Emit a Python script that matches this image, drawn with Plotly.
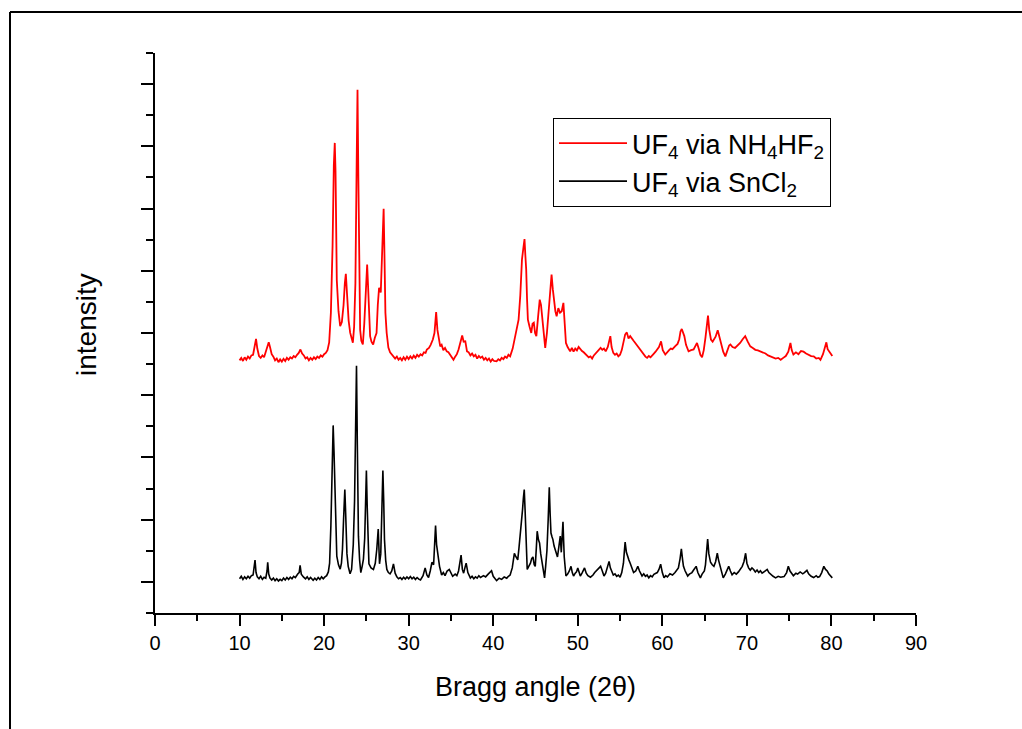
import plotly.graph_objects as go

# ---- data (2-theta in degrees, intensity in arbitrary offset units) ----
red_pts = [
    (10.0, 8.12), (10.2, 8.20), (10.4, 8.10), (10.6, 8.22), (10.8, 8.14), (11.0, 8.24), (11.2, 8.18),
    (11.4, 8.28), (11.6, 8.30), (11.8, 8.55), (11.95, 8.81), (12.1, 8.50), (12.3, 8.26), (12.5, 8.20),
    (12.7, 8.28), (12.9, 8.22), (13.1, 8.38), (13.3, 8.58), (13.45, 8.70), (13.6, 8.55), (13.8, 8.32),
    (14.0, 8.24), (14.2, 8.12), (14.4, 8.18), (14.6, 8.06), (14.8, 8.15), (15.0, 8.08), (15.2, 8.17),
    (15.4, 8.10), (15.6, 8.20), (15.8, 8.14), (16.0, 8.22), (16.2, 8.18), (16.4, 8.26), (16.6, 8.22),
    (16.8, 8.30), (17.0, 8.36), (17.2, 8.47), (17.4, 8.34), (17.6, 8.28), (17.8, 8.18), (18.0, 8.22),
    (18.2, 8.12), (18.4, 8.20), (18.6, 8.14), (18.8, 8.22), (19.0, 8.16), (19.2, 8.24), (19.4, 8.20),
    (19.6, 8.28), (19.8, 8.24), (20.0, 8.32), (20.2, 8.36), (20.4, 8.45), (20.6, 8.70), (20.8, 9.65),
    (21.0, 11.8), (21.15, 14.4), (21.26, 15.11), (21.35, 14.2), (21.5, 10.7), (21.7, 9.7), (21.9, 9.22),
    (22.1, 9.35), (22.3, 9.90), (22.45, 10.6), (22.57, 10.90), (22.7, 10.3), (22.9, 9.40), (23.08, 9.01),
    (23.25, 8.85), (23.4, 8.69), (23.55, 9.2), (23.7, 10.6), (23.85, 14.5), (23.95, 16.82), (24.05, 14.0),
    (24.15, 10.5), (24.26, 9.11), (24.4, 8.75), (24.58, 8.63), (24.75, 9.3), (24.85, 9.86), (24.98, 10.8),
    (25.09, 11.2), (25.2, 10.5), (25.32, 9.4), (25.44, 8.9), (25.6, 8.72), (25.8, 8.63), (26.0, 8.85),
    (26.2, 9.0), (26.35, 9.9), (26.5, 10.45), (26.7, 10.3), (26.85, 11.5), (26.95, 12.6), (27.04, 12.99),
    (27.12, 11.8), (27.25, 9.65), (27.4, 9.0), (27.6, 8.53), (27.8, 8.38), (28.0, 8.30), (28.2, 8.25),
    (28.4, 8.18), (28.6, 8.24), (28.8, 8.14), (29.0, 8.20), (29.2, 8.12), (29.4, 8.22), (29.6, 8.14),
    (29.8, 8.24), (30.0, 8.16), (30.2, 8.25), (30.4, 8.18), (30.6, 8.27), (30.8, 8.20), (31.0, 8.30),
    (31.2, 8.24), (31.4, 8.32), (31.6, 8.28), (31.8, 8.38), (32.0, 8.36), (32.15, 8.47), (32.4, 8.52),
    (32.6, 8.62), (32.86, 8.79), (33.05, 9.0), (33.25, 9.67), (33.4, 9.1), (33.55, 8.80), (33.73, 8.57),
    (33.9, 8.62), (34.1, 8.45), (34.3, 8.52), (34.5, 8.41), (34.7, 8.38), (34.9, 8.31), (35.1, 8.22),
    (35.3, 8.14), (35.5, 8.24), (35.7, 8.32), (35.9, 8.47), (36.1, 8.65), (36.33, 8.92), (36.5, 8.72),
    (36.7, 8.73), (36.9, 8.41), (37.1, 8.38), (37.3, 8.28), (37.5, 8.34), (37.7, 8.25), (37.9, 8.30),
    (38.1, 8.18), (38.3, 8.26), (38.5, 8.20), (38.7, 8.24), (38.9, 8.14), (39.1, 8.20), (39.3, 8.12),
    (39.5, 8.18), (39.7, 8.08), (39.9, 8.16), (40.1, 8.10), (40.4, 8.09), (40.6, 8.16), (40.8, 8.12),
    (41.0, 8.20), (41.2, 8.16), (41.4, 8.24), (41.6, 8.20), (41.8, 8.30), (42.0, 8.25), (42.3, 8.50),
    (42.6, 8.90), (42.8, 9.05), (43.0, 9.43), (43.2, 10.2), (43.4, 11.36), (43.55, 11.7), (43.7, 12.02),
    (43.8, 11.5), (43.9, 11.04), (44.0, 10.1), (44.1, 9.43), (44.3, 9.2), (44.5, 9.0), (44.65, 9.3),
    (44.8, 9.33), (44.95, 9.0), (45.1, 8.9), (45.3, 9.5), (45.5, 10.07), (45.65, 9.9), (45.8, 9.54),
    (46.0, 9.0), (46.15, 8.52), (46.35, 9.0), (46.55, 9.65), (46.75, 10.4), (46.9, 10.88), (47.05, 10.4),
    (47.2, 9.97), (47.35, 9.7), (47.5, 9.54), (47.7, 9.8), (47.9, 9.65), (48.1, 9.7), (48.3, 9.97),
    (48.45, 9.3), (48.6, 8.68), (48.8, 8.55), (49.1, 8.41), (49.3, 8.52), (49.5, 8.40), (49.7, 8.50),
    (49.9, 8.44), (50.1, 8.55), (50.3, 8.47), (50.5, 8.42), (50.7, 8.38), (50.9, 8.32), (51.1, 8.28),
    (51.3, 8.22), (51.5, 8.25), (51.7, 8.18), (51.9, 8.28), (52.1, 8.34), (52.3, 8.42), (52.5, 8.48),
    (52.7, 8.52), (52.9, 8.46), (53.1, 8.50), (53.3, 8.41), (53.55, 8.55), (53.85, 8.90), (54.0, 8.55),
    (54.2, 8.36), (54.4, 8.30), (54.6, 8.34), (54.8, 8.25), (55.0, 8.30), (55.2, 8.45), (55.4, 8.70),
    (55.6, 8.95), (55.8, 9.02), (56.0, 8.82), (56.2, 8.90), (56.4, 8.84), (56.6, 8.75), (56.8, 8.68),
    (57.0, 8.60), (57.2, 8.52), (57.4, 8.45), (57.6, 8.38), (57.8, 8.28), (58.0, 8.24), (58.2, 8.20),
    (58.4, 8.26), (58.6, 8.22), (58.8, 8.30), (59.0, 8.34), (59.2, 8.40), (59.4, 8.47), (59.6, 8.55),
    (59.85, 8.73), (60.05, 8.45), (60.35, 8.31), (60.6, 8.40), (60.8, 8.45), (61.0, 8.50), (61.2, 8.48),
    (61.5, 8.57), (61.8, 8.65), (62.0, 8.80), (62.15, 9.05), (62.3, 9.13), (62.45, 9.0), (62.6, 8.9),
    (62.8, 8.62), (63.1, 8.41), (63.4, 8.45), (63.7, 8.47), (63.9, 8.58), (64.1, 8.68), (64.3, 8.50),
    (64.5, 8.30), (64.7, 8.22), (64.9, 8.45), (65.1, 8.85), (65.25, 9.2), (65.4, 9.56), (65.55, 9.1),
    (65.75, 8.79), (65.95, 8.72), (66.1, 8.79), (66.3, 8.88), (66.55, 9.09), (66.75, 8.85), (66.95, 8.68),
    (67.2, 8.40), (67.45, 8.25), (67.7, 8.45), (67.9, 8.60), (68.05, 8.63), (68.3, 8.55), (68.6, 8.52),
    (68.9, 8.60), (69.2, 8.68), (69.5, 8.80), (69.8, 8.90), (70.1, 8.72), (70.4, 8.57), (70.7, 8.52),
    (71.0, 8.46), (71.3, 8.44), (71.6, 8.41), (71.9, 8.36), (72.2, 8.34), (72.5, 8.28), (72.8, 8.25),
    (73.1, 8.22), (73.4, 8.18), (73.7, 8.20), (74.0, 8.14), (74.3, 8.20), (74.6, 8.26), (74.9, 8.40),
    (75.15, 8.68), (75.3, 8.45), (75.5, 8.31), (75.8, 8.38), (76.1, 8.32), (76.4, 8.42), (76.7, 8.40),
    (77.0, 8.34), (77.3, 8.30), (77.6, 8.26), (77.9, 8.25), (78.2, 8.18), (78.5, 8.20), (78.7, 8.14),
    (79.0, 8.32), (79.2, 8.50), (79.4, 8.70), (79.55, 8.48), (79.7, 8.40), (79.9, 8.34), (80.1, 8.26),
]

black_pts = [
    (10.0, 1.10), (10.2, 1.18), (10.4, 1.08), (10.6, 1.16), (10.8, 1.10), (11.0, 1.18), (11.2, 1.12),
    (11.4, 1.20), (11.6, 1.22), (11.75, 1.45), (11.83, 1.70), (11.95, 1.30), (12.1, 1.16), (12.3, 1.10),
    (12.5, 1.18), (12.7, 1.08), (12.9, 1.15), (13.1, 1.12), (13.25, 1.35), (13.33, 1.63), (13.45, 1.25),
    (13.6, 1.12), (13.8, 1.06), (14.0, 1.12), (14.2, 1.04), (14.4, 1.10), (14.6, 1.03), (14.8, 1.08),
    (15.0, 1.04), (15.2, 1.12), (15.4, 1.06), (15.6, 1.14), (15.8, 1.08), (16.0, 1.15), (16.2, 1.10),
    (16.4, 1.18), (16.6, 1.14), (16.9, 1.26), (17.05, 1.30), (17.16, 1.53), (17.3, 1.25), (17.55, 1.16),
    (17.8, 1.10), (18.0, 1.16), (18.2, 1.08), (18.4, 1.14), (18.7, 1.05), (18.9, 1.12), (19.1, 1.06),
    (19.3, 1.14), (19.5, 1.08), (19.7, 1.16), (19.9, 1.10), (20.1, 1.16), (20.3, 1.20), (20.5, 1.32),
    (20.65, 1.6), (20.8, 2.8), (20.95, 4.6), (21.07, 6.03), (21.17, 5.2), (21.26, 4.18), (21.38, 2.6),
    (21.5, 1.83), (21.7, 1.55), (21.9, 1.41), (22.05, 1.6), (22.17, 2.05), (22.3, 3.0), (22.45, 3.97),
    (22.55, 3.2), (22.7, 1.9), (22.85, 1.5), (23.07, 1.26), (23.25, 1.4), (23.45, 2.2), (23.6, 3.6),
    (23.72, 6.0), (23.83, 7.95), (23.93, 5.4), (24.06, 2.47), (24.2, 1.7), (24.34, 1.3), (24.5, 1.5),
    (24.65, 1.73), (24.8, 2.4), (24.92, 3.8), (25.0, 4.58), (25.1, 3.4), (25.2, 2.0), (25.3, 1.58),
    (25.55, 1.45), (25.83, 1.40), (26.05, 1.6), (26.23, 2.05), (26.4, 2.7), (26.55, 1.58), (26.7, 1.9),
    (26.82, 3.0), (26.95, 4.58), (27.05, 3.6), (27.14, 2.36), (27.28, 1.7), (27.42, 1.40), (27.6, 1.30),
    (27.8, 1.26), (28.0, 1.35), (28.2, 1.58), (28.4, 1.28), (28.6, 1.16), (28.8, 1.10), (29.0, 1.14),
    (29.2, 1.08), (29.4, 1.15), (29.6, 1.09), (29.8, 1.16), (30.0, 1.10), (30.2, 1.17), (30.4, 1.10),
    (30.6, 1.15), (30.8, 1.08), (31.0, 1.14), (31.2, 1.09), (31.4, 1.06), (31.7, 1.20), (31.95, 1.45),
    (32.15, 1.22), (32.35, 1.14), (32.55, 1.35), (32.75, 1.63), (32.95, 1.55), (33.08, 2.2), (33.18, 2.81),
    (33.3, 2.2), (33.45, 1.83), (33.65, 1.5), (33.9, 1.22), (34.1, 1.30), (34.3, 1.20), (34.55, 1.35),
    (34.8, 1.40), (35.0, 1.28), (35.2, 1.18), (35.5, 1.25), (35.7, 1.20), (35.9, 1.35), (36.05, 1.55),
    (36.2, 1.86), (36.35, 1.40), (36.5, 1.28), (36.65, 1.45), (36.8, 1.60), (37.0, 1.30), (37.3, 1.12),
    (37.5, 1.18), (37.7, 1.10), (37.9, 1.16), (38.1, 1.12), (38.3, 1.20), (38.5, 1.14), (38.85, 1.20),
    (39.1, 1.16), (39.4, 1.25), (39.6, 1.30), (39.8, 1.36), (40.0, 1.18), (40.2, 1.10), (40.4, 1.04),
    (40.7, 1.12), (41.0, 1.08), (41.3, 1.16), (41.6, 1.12), (41.8, 1.18), (42.0, 1.22), (42.25, 1.45),
    (42.5, 1.92), (42.7, 1.80), (42.9, 1.71), (43.05, 2.1), (43.2, 2.47), (43.35, 3.0), (43.47, 3.33),
    (43.57, 3.7), (43.67, 3.97), (43.77, 3.3), (43.87, 2.47), (43.95, 1.8), (44.02, 1.40), (44.2, 1.5),
    (44.4, 1.60), (44.55, 1.75), (44.7, 1.80), (44.85, 1.55), (44.97, 1.50), (45.1, 2.1), (45.2, 2.63),
    (45.35, 2.35), (45.48, 2.25), (45.62, 1.9), (45.76, 1.60), (45.9, 1.35), (46.07, 1.13), (46.2, 1.5),
    (46.35, 2.0), (46.5, 3.0), (46.63, 4.04), (46.73, 3.2), (46.83, 2.57), (46.95, 2.45), (47.06, 2.36),
    (47.2, 2.15), (47.34, 2.04), (47.47, 1.9), (47.6, 1.80), (47.75, 2.1), (47.93, 2.47), (48.05, 1.95),
    (48.15, 2.4), (48.25, 2.93), (48.33, 2.3), (48.4, 1.8), (48.6, 1.19), (48.8, 1.25), (49.0, 1.35),
    (49.2, 1.50), (49.35, 1.30), (49.5, 1.19), (49.7, 1.28), (49.85, 1.32), (50.0, 1.45), (50.15, 1.28),
    (50.3, 1.19), (50.5, 1.28), (50.65, 1.35), (50.8, 1.45), (51.0, 1.28), (51.2, 1.20), (51.5, 1.15),
    (51.8, 1.22), (52.0, 1.30), (52.3, 1.38), (52.5, 1.42), (52.7, 1.50), (52.9, 1.35), (53.1, 1.19),
    (53.3, 1.28), (53.5, 1.45), (53.7, 1.66), (53.85, 1.45), (54.0, 1.35), (54.2, 1.22), (54.4, 1.26),
    (54.6, 1.18), (54.8, 1.22), (55.0, 1.15), (55.2, 1.30), (55.4, 1.60), (55.5, 1.95), (55.6, 2.28),
    (55.75, 1.95), (55.9, 1.80), (56.05, 1.70), (56.2, 1.60), (56.4, 1.45), (56.6, 1.30), (56.85, 1.35),
    (57.1, 1.50), (57.3, 1.35), (57.6, 1.19), (57.8, 1.26), (58.0, 1.18), (58.2, 1.22), (58.4, 1.13),
    (58.6, 1.20), (58.8, 1.16), (59.0, 1.24), (59.2, 1.28), (59.4, 1.30), (59.6, 1.40), (59.8, 1.57),
    (60.0, 1.30), (60.2, 1.13), (60.4, 1.20), (60.6, 1.16), (60.9, 1.26), (61.2, 1.22), (61.5, 1.30),
    (61.7, 1.40), (61.9, 1.45), (62.1, 1.75), (62.25, 2.06), (62.4, 1.70), (62.5, 1.50), (62.7, 1.35),
    (63.0, 1.19), (63.2, 1.25), (63.5, 1.30), (63.7, 1.38), (64.0, 1.50), (64.2, 1.30), (64.5, 1.13),
    (64.7, 1.25), (64.97, 1.35), (65.1, 1.55), (65.25, 1.95), (65.36, 2.38), (65.5, 1.90), (65.7, 1.63),
    (65.9, 1.55), (66.1, 1.50), (66.3, 1.65), (66.5, 1.92), (66.65, 1.70), (66.8, 1.55), (67.0, 1.35),
    (67.2, 1.13), (67.45, 1.25), (67.65, 1.40), (67.85, 1.50), (68.05, 1.35), (68.25, 1.23), (68.5, 1.30),
    (68.75, 1.25), (69.0, 1.32), (69.2, 1.40), (69.45, 1.50), (69.65, 1.65), (69.85, 1.92), (70.0, 1.60),
    (70.2, 1.45), (70.4, 1.38), (70.6, 1.45), (70.8, 1.40), (71.0, 1.32), (71.2, 1.38), (71.4, 1.30),
    (71.6, 1.36), (71.8, 1.28), (72.1, 1.34), (72.4, 1.40), (72.6, 1.30), (72.9, 1.22), (73.1, 1.18),
    (73.4, 1.13), (73.7, 1.18), (74.0, 1.15), (74.4, 1.17), (74.7, 1.30), (74.9, 1.50), (75.1, 1.35),
    (75.3, 1.25), (75.5, 1.20), (75.8, 1.28), (76.0, 1.25), (76.3, 1.32), (76.6, 1.26), (76.8, 1.30),
    (77.1, 1.37), (77.3, 1.26), (77.6, 1.18), (77.9, 1.14), (78.2, 1.20), (78.4, 1.15), (78.6, 1.17),
    (78.85, 1.30), (79.1, 1.50), (79.3, 1.40), (79.5, 1.35), (79.7, 1.25), (79.9, 1.20), (80.1, 1.13),
]

series_names = ["UF<sub>4</sub> via NH<sub>4</sub>HF<sub>2</sub>", "UF<sub>4</sub> via SnCl<sub>2</sub>"]
series_colors = ["#ff0000", "#000000"]
x_tickvals = [0, 10, 20, 30, 40, 50, 60, 70, 80, 90]

red_x, red_y = zip(*red_pts)
black_x, black_y = zip(*black_pts)

FONT = "Liberation Sans, Arial, sans-serif"

fig = go.Figure()
fig.add_trace(go.Scatter(x=red_x, y=red_y, mode="lines", name=series_names[0],
                         line=dict(color=series_colors[0], width=1.8)))
fig.add_trace(go.Scatter(x=black_x, y=black_y, mode="lines", name=series_names[1],
                         line=dict(color=series_colors[1], width=1.6)))

L, R, T, B = 155, 106, 53, 116
W, H = 1022, 729
pw, ph = W - L - R, H - T - B

fig.update_layout(
    width=W, height=H,
    margin=dict(l=L, r=R, t=T, b=B, pad=0),
    paper_bgcolor="white", plot_bgcolor="white",
    font=dict(family=FONT, color="black", size=20),
    showlegend=True,
    legend=dict(
        x=(553 - L) / pw, y=(H - B - 118) / ph, xanchor="left", yanchor="top",
        bgcolor="white", bordercolor="black", borderwidth=1,
        font=dict(family=FONT, size=27),
        itemwidth=68, tracegroupgap=0,
    ),
    xaxis=dict(
        range=[0, 90], showgrid=False, zeroline=False,
        showline=True, linecolor="black", linewidth=2,
        ticks="outside", ticklen=11, tickwidth=2, tickcolor="black",
        tickmode="array", tickvals=x_tickvals,
        tickfont=dict(family=FONT, size=20),
        minor=dict(ticks="outside", ticklen=6, tickwidth=2, tickcolor="black",
                   tickmode="linear", tick0=5, dtick=10),
        title=dict(text="Bragg angle (2θ)", font=dict(family=FONT, size=27), standoff=24),
    ),
    yaxis=dict(
        range=[0, 18], showgrid=False, zeroline=False,
        showline=True, linecolor="black", linewidth=2,
        ticks="outside", ticklen=12, tickwidth=2, tickcolor="black",
        tickmode="linear", tick0=1, dtick=2, showticklabels=False,
        minor=dict(ticks="outside", ticklen=7, tickwidth=2, tickcolor="black",
                   tickmode="linear", tick0=0, dtick=2),
    ),
)

# y-axis title placed as in the reference (slightly above the plot's vertical centre)
fig.add_annotation(text="intensity", textangle=-90, showarrow=False,
                   xref="paper", yref="paper", x=(86 - L) / pw, y=(H - B - 325) / ph,
                   xanchor="center", yanchor="middle",
                   font=dict(family=FONT, size=28, color="black"))

# outer frame (top and left edges of the original page border)
fx0 = (10 - L) / pw
fy0 = (H - B - 12) / ph
fig.add_shape(type="line", xref="paper", yref="paper", x0=fx0, x1=(W - L) / pw + 0.01, y0=fy0, y1=fy0,
              line=dict(color="black", width=2))
fig.add_shape(type="line", xref="paper", yref="paper", x0=fx0, x1=fx0, y0=fy0, y1=-(B + 5) / ph,
              line=dict(color="black", width=2))

fig.write_html("out.html", config={"displayModeBar": False},
               post_script="document.body.style.margin='0';")
